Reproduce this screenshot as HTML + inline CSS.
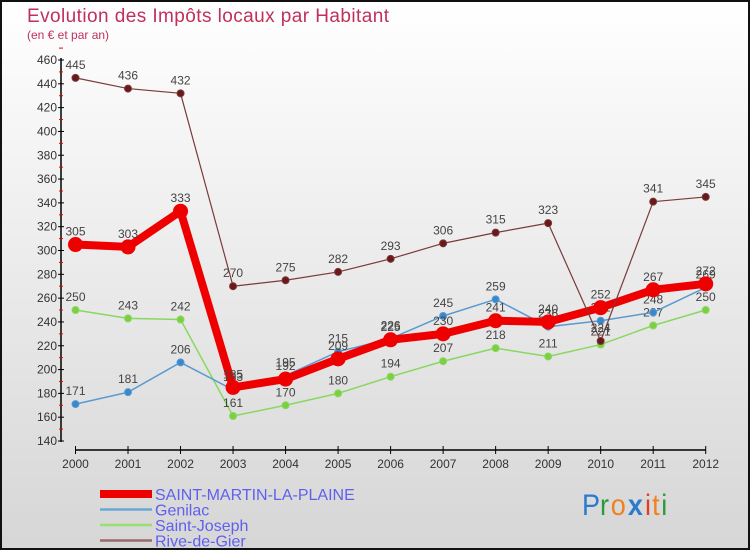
<!DOCTYPE html>
<html><head><meta charset="utf-8"><style>
body{margin:0}
#c{width:750px;height:550px;position:relative;background:linear-gradient(#fff,#d6d6d6);box-sizing:border-box;border:2px solid #111;overflow:hidden;font-family:"Liberation Sans",sans-serif}
</style></head><body>
<div id="c">
<svg width="750" height="550" style="position:absolute;left:-2px;top:-2px" id="s">
<text x="27" y="22" font-size="19" fill="#c0305a" textLength="362">Evolution des Impôts locaux par Habitant</text>
<text x="27" y="39" font-size="12" fill="#c0305a">(en € et par an)</text>
<g id="g"></g>
<g font-size="30" font-family="'Liberation Sans',sans-serif" transform="translate(582,515) scale(0.9,1)">
<text x="0" y="0" fill="#2a7ad0">P</text><text x="20" y="0" fill="#2a9a3a">r</text><text x="32" y="0" fill="#f08020">o</text><text x="51" y="0" fill="#2a7ad0" font-weight="bold">x</text><text x="70" y="0" fill="#e04020">i</text><text x="78" y="0" fill="#f08020">t</text><text x="88" y="0" fill="#2a9a3a">i</text>
</g>
</svg>
</div>
<script>
const years=[2000,2001,2002,2003,2004,2005,2006,2007,2008,2009,2010,2011,2012];
const yTicks=[140,160,180,200,220,240,260,280,300,320,340,360,380,400,420,440,460];
const smlp=[305,303,333,185,192,209,225,230,241,240,252,267,272];
const genilac=[171,181,206,183,195,215,226,245,259,236,241,248,269];
const stjoseph=[250,243,242,161,170,180,194,207,218,211,221,237,250];
const rive=[445,436,432,270,275,282,293,306,315,323,224,341,345];
const names=["SAINT-MARTIN-LA-PLAINE","Genilac","Saint-Joseph","Rive-de-Gier"];
const NS="http://www.w3.org/2000/svg";
const g=document.getElementById('g');
const X=i=>75.5+i*(705.7-75.5)/(years.length-1);
const Y=v=>441-(v-140)*(381/320);
function mk(t,a,p){const e=document.createElementNS(NS,t);for(const k in a)e.setAttribute(k,a[k]);(p||g).appendChild(e);return e;}
let ax=mk('line',{x1:61,y1:58,x2:61,y2:442,stroke:'#000','stroke-width':1.5});


yTicks.forEach(v=>{
 mk('line',{x1:58,x2:64,y1:Y(v),y2:Y(v),stroke:'#000'});
 mk('line',{x1:59,x2:63,y1:Y(v+10),y2:Y(v+10),stroke:'#e00'});
 const t=mk('text',{x:57,y:Y(v)+4,'text-anchor':'end','font-size':12,fill:'#333'});t.textContent=v;
 
 
});
let xa=mk('line',{x1:75,y1:450,x2:706,y2:450,stroke:'#000','stroke-width':1.5});


years.forEach((y,i)=>{
 mk('line',{x1:X(i),x2:X(i),y1:446,y2:454,stroke:'#000'});
 const t=mk('text',{x:X(i),y:468,'text-anchor':'middle','font-size':12,fill:'#333'});t.textContent=y;
 
 
});
function series(d,col,w,r,fill,name){
 const p=mk('polyline',{points:d.map((v,i)=>X(i)+','+Y(v)).join(' '),fill:'none',stroke:col,'stroke-width':w,'stroke-linejoin':'round'});
 
 
 d.forEach((v,i)=>{
  const c=mk('circle',{cx:X(i),cy:Y(v),r:r,fill:fill,stroke:col,'stroke-width':1});
  
  
  const t=mk('text',{x:X(i),y:Y(v)-9,'text-anchor':'middle','font-size':12,fill:'#444'});t.textContent=v;
  
  
 });
}
series(stjoseph,'#88d860',1.5,3.5,'#7cd040','saint-joseph');
series(genilac,'#5a9ad0',1.5,3.5,'#3a88cc','genilac');
series(smlp,'#ee0000',8,7,'#ee0000','saint-martin');
series(rive,'#7a3a3a',1.2,3.5,'#6a1818','rive-de-gier');
const lc=['#ee0000','#6aa8d8','#98e070','#9a6a6a'],lw=[8,2.5,2.5,2.5];
names.forEach((n,i)=>{
 const y=494+i*15.5;
 const l=mk('line',{x1:100,x2:152,y1:y,y2:y,stroke:lc[i],'stroke-width':lw[i]});
 
 
 const t=mk('text',{x:155,y:y+6,'font-size':16,fill:'#6060ee'});t.textContent=n;
 
 
});
</script>
</body></html>
